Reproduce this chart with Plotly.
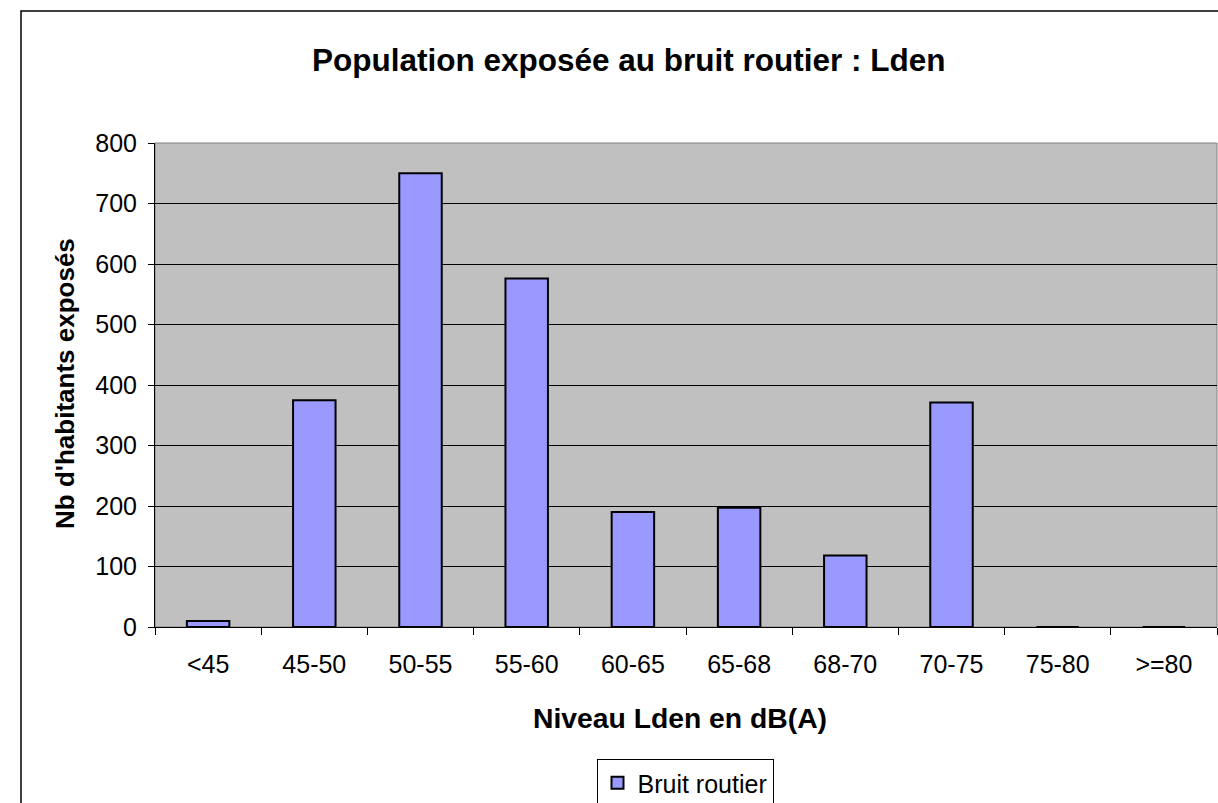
import plotly.graph_objects as go

categories = ["<45", "45-50", "50-55", "55-60", "60-65", "65-68", "68-70", "70-75", "75-80", ">=80"]
values = [10, 375, 750, 576, 190, 197, 118, 371, 0, 0]
series_name = "Bruit routier"
y_ticks = [0, 100, 200, 300, 400, 500, 600, 700, 800]

FONT = "Liberation Sans, Arial, sans-serif"

fig = go.Figure()
fig.add_trace(go.Bar(
    x=categories, y=values, name=series_name,
    marker=dict(color="#9999FF", line=dict(color="#000000", width=2)),
))

L, R, T, B = 155, 1, 143, 176
W, H = 1218, 803
pw = W - L - R
ph = H - T - B

def px_x(x):
    return (x - L) / pw

def px_y(y):
    return (H - B - y) / ph

fig.update_layout(
    width=W, height=H,
    margin=dict(l=L, r=R, t=T, b=B, pad=0, autoexpand=False),
    paper_bgcolor="white",
    plot_bgcolor="#C0C0C0",
    bargap=0.6,
    font=dict(family=FONT, size=25, color="black"),
    showlegend=True,
    legend=dict(
        x=px_x(685), xanchor="center", y=px_y(759), yanchor="top",
        bordercolor="#000000", borderwidth=1, bgcolor="white",
        font=dict(size=25, family=FONT),
        itemwidth=30,
    ),
    xaxis=dict(
        type="category", showgrid=False, tickson="boundaries",
        ticks="outside", ticklen=7, tickcolor="black",
        showline=True, linecolor="black", linewidth=1,
        tickfont=dict(size=25, family=FONT), ticklabelstandoff=15,
        automargin=False,
    ),
    yaxis=dict(
        range=[0, 800], tickvals=y_ticks, showgrid=True,
        gridcolor="#000000", gridwidth=1,
        ticks="outside", ticklen=6, tickcolor="black",
        showline=True, linecolor="black", linewidth=1,
        zeroline=False,
        tickfont=dict(size=25, family=FONT), ticklabelstandoff=6,
        automargin=False,
    ),
    shapes=[
        dict(type="rect", xref="paper", yref="paper", x0=0, x1=1, y0=0, y1=1,
             line=dict(color="#808080", width=1), layer="below"),
        dict(type="rect", xref="paper", yref="paper",
             x0=px_x(21), x1=px_x(1230), y0=px_y(11), y1=px_y(820),
             line=dict(color="#000000", width=1.5)),
    ],
    annotations=[
        dict(text="<b>Population exposée au bruit routier : Lden</b>",
             xref="paper", yref="paper", x=px_x(629), y=px_y(60),
             showarrow=False, font=dict(size=31.5, family=FONT),
             xanchor="center", yanchor="middle"),
        dict(text="<b>Niveau Lden en dB(A)</b>",
             xref="paper", yref="paper", x=px_x(680), y=px_y(718),
             showarrow=False, font=dict(size=28.3, family=FONT),
             xanchor="center", yanchor="middle"),
        dict(text="<b>Nb d'habitants exposés</b>",
             xref="paper", yref="paper", x=px_x(65), y=px_y(384),
             showarrow=False, font=dict(size=26, family=FONT), textangle=-90,
             xanchor="center", yanchor="middle"),
    ],
)

fig.write_html(
    "out.html",
    config={"displayModeBar": False},
    post_script="document.body.style.margin='0px';document.body.style.overflow='hidden';",
)
